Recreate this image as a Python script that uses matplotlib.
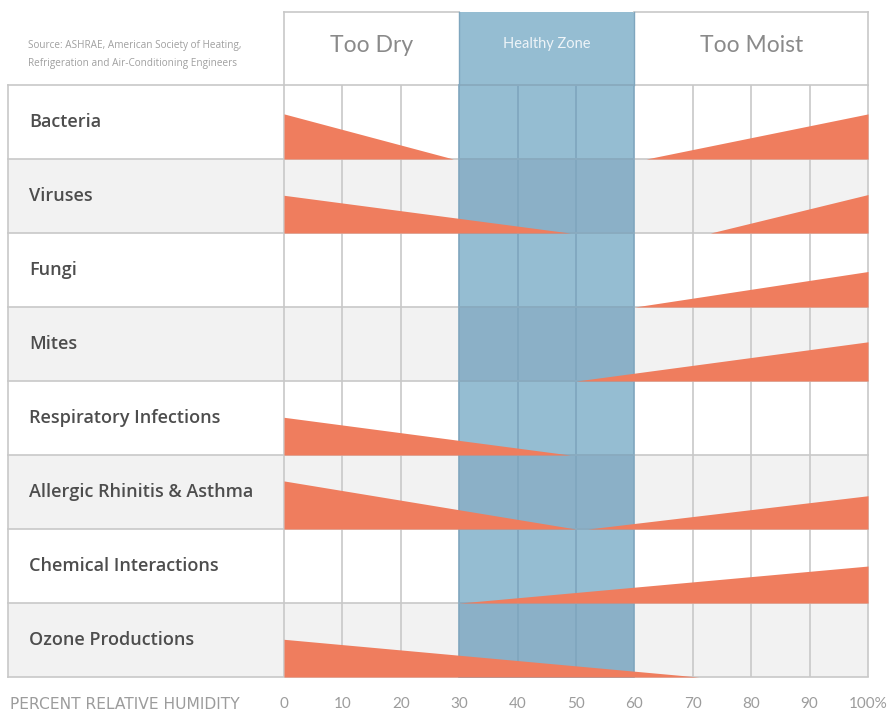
"""
Humidity risk chart: where each indoor health hazard grows with relative humidity.
"""

import matplotlib

matplotlib.use("Agg")
import matplotlib.pyplot as plt
import numpy as np
from matplotlib.patches import Rectangle

categories = [
    "Bacteria",
    "Viruses",
    "Fungi",
    "Mites",
    "Respiratory Infections",
    "Allergic Rhinitis & Asthma",
    "Chemical Interactions",
    "Ozone Productions",
]
# dry side: risk height at 0 % RH (fraction of a row) and the RH where it fades out
dry_peak = [0.61, 0.51, 0.0, 0.0, 0.51, 0.65, 0.0, 0.51]
dry_end = [29, 49, np.nan, np.nan, 49, 50, np.nan, 71]
# moist side: RH where risk starts and its height at 100 % RH
moist_start = [62, 73, 60, 50, np.nan, 52, 30, np.nan]
moist_peak = [0.61, 0.52, 0.48, 0.53, 0.0, 0.45, 0.50, 0.0]

zone_names = ["Too Dry", "Healthy Zone", "Too Moist"]
zone_edges = [0, 30, 60, 100]

rh_ticks = [0, 10, 20, 30, 40, 50, 60, 70, 80, 90, 100]
rh_labels = ["0", "10", "20", "30", "40", "50", "60", "70", "80", "90", "100%"]

source_lines = [
    "Source: ASHRAE, American Society of Heating,",
    "Refrigeration and Air-Conditioning Engineers",
]
axis_title = "PERCENT RELATIVE HUMIDITY"

CORAL = "#ef7d5e"
GRID = "#c8c8c8"
BAND_LINE = "#7fa6be"
ROW_GRAY = "#f2f2f2"
BAND_ON_WHITE = "#95bdd2"
BAND_ON_GRAY = "#8bb0c7"
AXIS_TEXT = "#9c9c9c"

LABEL_LEFT = -47.26
HEADER_TOP = -0.986


def main():
    fig = plt.figure(figsize=(8.88, 7.13), dpi=100)
    ax = fig.add_axes([0, 0, 1, 1])
    ax.set_xlim(-48.63, 103.42)
    ax.set_ylim(8.486, -1.149)
    ax.axis("off")

    n = len(categories)
    lo, hi = zone_edges[1], zone_edges[2]

    # row backgrounds and the healthy band behind everything
    for i in range(n):
        if i % 2 == 1:
            ax.add_patch(Rectangle((LABEL_LEFT, i), 100 - LABEL_LEFT, 1,
                                   facecolor=ROW_GRAY, edgecolor="none", zorder=0))
        band = BAND_ON_GRAY if i % 2 == 1 else BAND_ON_WHITE
        ax.add_patch(Rectangle((lo, i), hi - lo, 1, facecolor=band,
                               edgecolor="none", zorder=1))
    ax.add_patch(Rectangle((lo, HEADER_TOP), hi - lo, -HEADER_TOP,
                           facecolor=BAND_ON_WHITE, edgecolor="none", zorder=1))

    # grid
    for x in rh_ticks:
        col = BAND_LINE if lo <= x <= hi else GRID
        ax.plot([x, x], [0, n], color=col, lw=1.2, zorder=2, solid_capstyle="butt")
    for y in range(n + 1):
        ax.plot([LABEL_LEFT, 100], [y, y], color=GRID, lw=1.2, zorder=2)
        ax.plot([lo, hi], [y, y], color=BAND_LINE, lw=1.2, zorder=2.1)
    ax.plot([LABEL_LEFT, LABEL_LEFT], [0, n], color=GRID, lw=1.2, zorder=2)

    # header box
    ax.plot([0, lo], [HEADER_TOP, HEADER_TOP], color=GRID, lw=1.2, zorder=2)
    ax.plot([hi, 100], [HEADER_TOP, HEADER_TOP], color=GRID, lw=1.2, zorder=2)
    for x in (0, 100):
        ax.plot([x, x], [HEADER_TOP, 0], color=GRID, lw=1.2, zorder=2)
    for x in (lo, hi):
        ax.plot([x, x], [HEADER_TOP, 0], color=BAND_LINE, lw=1.0, zorder=2)

    # risk wedges
    for i in range(n):
        base = i + 1
        if not np.isnan(dry_end[i]):
            xs = np.array([0, dry_end[i]])
            ax.fill_between(xs, base, base - np.array([dry_peak[i], 0]),
                            color=CORAL, lw=0, zorder=3)
        if not np.isnan(moist_start[i]):
            xs = np.array([moist_start[i], 100])
            ax.fill_between(xs, base, base - np.array([0, moist_peak[i]]),
                            color=CORAL, lw=0, zorder=3)

    # row labels
    for i, name in enumerate(categories):
        ax.text(-43.66, i + 0.5, name, ha="left", va="center", fontsize=13,
                color="#4d4d4d", family="Open Sans", fontweight="semibold", zorder=4)

    # header titles
    for k, name in enumerate(zone_names):
        cx = (zone_edges[k] + zone_edges[k + 1]) / 2
        if k == 1:
            ax.text(cx, -0.56, name, ha="center", va="center", fontsize=10.5,
                    color="#eef4f8", family="Lato", zorder=4)
        else:
            ax.text(cx, -0.54, name, ha="center", va="center", fontsize=16.5,
                    color="#8a8a8a", family="Lato", zorder=4)

    for j, line in enumerate(source_lines):
        ax.text(-43.8, -0.54 + j * 0.245, line, ha="left", va="center",
                fontsize=7.2, color="#a0a0a0", family="Open Sans", zorder=4)

    # humidity axis along the bottom
    for x, lab in zip(rh_ticks, rh_labels):
        ax.text(x, 8.37, lab, ha="center", va="center", fontsize=11,
                color=AXIS_TEXT, family="Lato")
    ax.text(-47.0, 8.37, axis_title, ha="left", va="center", fontsize=11.2,
            color=AXIS_TEXT, family="DejaVu Sans")

    fig.savefig("out.png", dpi=100, facecolor="white")
    plt.close(fig)


if __name__ == "__main__":
    main()
